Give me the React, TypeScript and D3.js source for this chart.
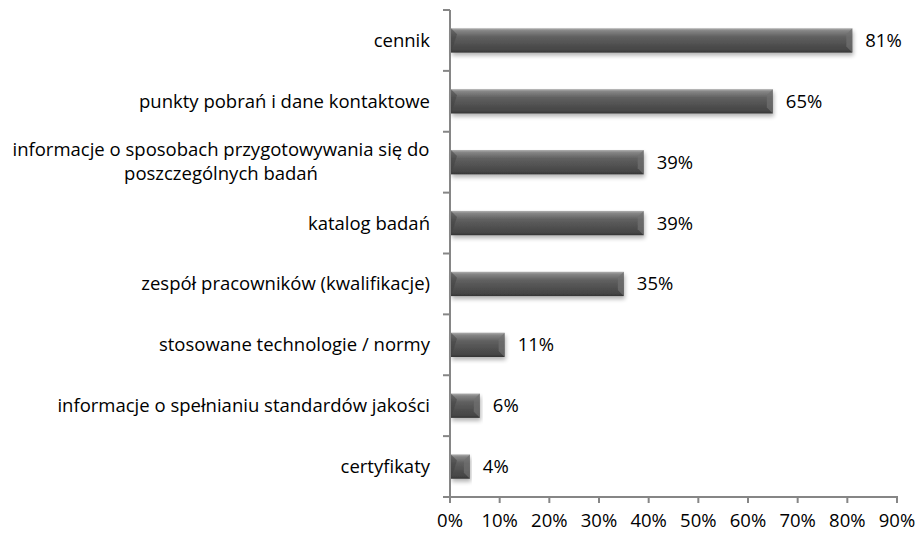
import * as d3 from 'd3'

const CATEGORIES = [
  ['cennik'],
  ['punkty pobrań i dane kontaktowe'],
  ['informacje o sposobach przygotowywania się do', 'poszczególnych badań'],
  ['katalog badań'],
  ['zespół pracowników (kwalifikacje)'],
  ['stosowane technologie / normy'],
  ['informacje o spełnianiu standardów jakości'],
  ['certyfikaty'],
]
const VALUES = [81, 65, 39, 39, 35, 11, 6, 4]
const TICKS = [0, 10, 20, 30, 40, 50, 60, 70, 80, 90]

const W = 919
const H = 533
const FONT = '"Open Sans", "Noto Sans", sans-serif'
const FS = 18.5

export default function App() {
  const x = d3.scaleLinear().domain([0, 90]).range([450, 897])
  const y = d3.scaleBand<number>()
    .domain(d3.range(VALUES.length))
    .range([10, 497])
    .paddingInner(0.6)
    .paddingOuter(0.3)
  const band = d3.scaleBand<number>().domain(d3.range(VALUES.length)).range([10, 497])
  const bh = y.bandwidth()

  return (
    <svg width={W} height={H} style={{ position: 'absolute', left: 0, top: 0, background: '#fff' }}>
      <defs>
        <linearGradient id="barGrad" x1="0" y1="0" x2="0" y2="1">
          <stop offset="0" stopColor="#b0b0b0" />
          <stop offset="0.1" stopColor="#858585" />
          <stop offset="0.35" stopColor="#606060" />
          <stop offset="0.7" stopColor="#4e4e4e" />
          <stop offset="0.9" stopColor="#454545" />
          <stop offset="1" stopColor="#333" />
        </linearGradient>
        <filter id="shadow" x="-10%" y="-30%" width="120%" height="180%">
          <feGaussianBlur in="SourceAlpha" stdDeviation="2.2" />
          <feOffset dx="1" dy="3" result="b" />
          <feComponentTransfer><feFuncA type="linear" slope="0.3" /></feComponentTransfer>
          <feMerge><feMergeNode /><feMergeNode in="SourceGraphic" /></feMerge>
        </filter>
      </defs>

      {/* bars */}
      {VALUES.map((v, i) => {
        const x0 = x(0) + 1
        const x1 = x(v)
        const y0 = y(i)!
        const b = Math.min(6, (x1 - x0) / 2)
        return (
          <g key={i}>
            <g filter="url(#shadow)">
              <rect x={x0} y={y0} width={x1 - x0} height={bh} fill="url(#barGrad)" />
              <polygon points={`${x0},${y0} ${x0 + b},${y0 + b} ${x0},${y0 + bh}`} fill="#3f3f3f" opacity={0.5} />
              <polygon points={`${x1},${y0} ${x1 - b},${y0 + b} ${x1 - b},${y0 + bh - b} ${x1},${y0 + bh}`} fill="#707070" opacity={0.7} />
            </g>
            <text x={x1 + 13} y={y0 + bh / 2} dy="0.35em" fontSize={FS} fontFamily={FONT} fill="#000">
              {v}%
            </text>
          </g>
        )
      })}

      {/* y axis */}
      <line x1={450} x2={450} y1={10} y2={497} stroke="#868686" strokeWidth={2} />
      {d3.range(VALUES.length + 1).map(i => {
        const ty = i < VALUES.length ? band(i)! : 497
        return <line key={i} x1={443} x2={450} y1={ty} y2={ty} stroke="#868686" strokeWidth={2} />
      })}

      {/* x axis */}
      <line x1={449} x2={898} y1={497} y2={497} stroke="#868686" strokeWidth={2} />
      {TICKS.map(t => (
        <g key={t}>
          <line x1={x(t)} x2={x(t)} y1={497} y2={503} stroke="#868686" strokeWidth={2} />
          <text x={x(t)} y={527} textAnchor="middle" fontSize={FS} fontFamily={FONT} fill="#000">
            {t}%
          </text>
        </g>
      ))}

      {/* category labels */}
      {CATEGORIES.map((lines, i) => {
        const cy = y(i)! + bh / 2
        if (lines.length === 1) {
          return (
            <text key={i} x={430} y={cy} dy="0.35em" textAnchor="end" fontSize={FS} fontFamily={FONT} fill="#000">
              {lines[0]}
            </text>
          )
        }
        return (
          <text key={i} x={221} y={cy} textAnchor="middle" fontSize={FS} fontFamily={FONT} fill="#000">
            {lines.map((l, j) => (
              <tspan key={j} x={221} dy={j === 0 ? '-0.35em' : '1.3em'}>{l}</tspan>
            ))}
          </text>
        )
      })}
    </svg>
  )
}
